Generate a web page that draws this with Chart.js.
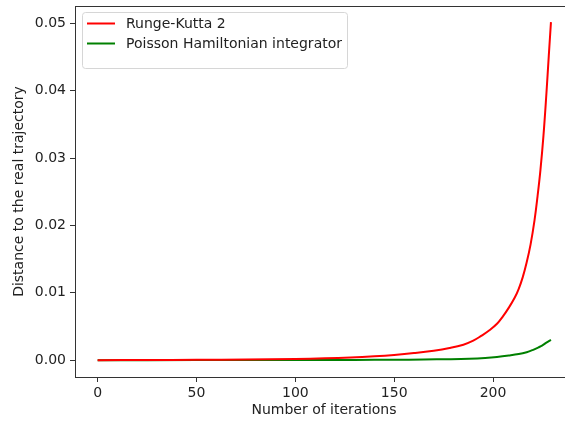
<!DOCTYPE html>
<html>
<head>
<meta charset="utf-8">
<script src="https://cdn.jsdelivr.net/npm/chart.js@4"></script>
<style>
  html, body { margin: 0; padding: 0; background: #fff; overflow: hidden; }
  #wrap { width: 575px; height: 421px; }
</style>
</head>
<body>
<div id="wrap"><canvas id="grafico" width="575" height="421"></canvas></div>
<script>
// --- DATOS ---
const etiquetaRK = "Runge-Kutta 2";
const etiquetaPH = "Poisson Hamiltonian integrator";

const iterRK = [0, 25, 50, 75, 100, 115, 128, 140, 150, 160, 170, 178, 185, 190, 194, 198, 202, 205, 208, 211, 213, 215, 217, 219, 221, 222.5, 224, 225.5, 227, 228.2, 229.3];
const distRK = [0, 0.00002, 0.00005, 0.0001, 0.00018, 0.00027, 0.0004, 0.00058, 0.00078, 0.00105, 0.0014, 0.0018, 0.0023, 0.0029, 0.0036, 0.0044, 0.0054, 0.0065, 0.0078, 0.0093, 0.0106, 0.0123, 0.0145, 0.0172, 0.0208, 0.0243, 0.0283, 0.0333, 0.0396, 0.0452, 0.0502];

const iterPH = [0, 50, 100, 130, 150, 165, 178, 188, 196, 202, 208, 213, 217, 220, 223, 225, 227, 229.3];
const distPH = [0, 0.00001, 0.00002, 0.00004, 0.00006, 0.0001, 0.00015, 0.00022, 0.00033, 0.00047, 0.00068, 0.0009, 0.00118, 0.0015, 0.0019, 0.0022, 0.0026, 0.0030];

const ticksX = [0, 50, 100, 150, 200];
const ticksY = [0, 0.01, 0.02, 0.03, 0.04, 0.05];

const fuente = "'DejaVu Sans', sans-serif";

// --- LEYENDA ESTILO MATPLOTLIB Y MARCO ---
const marcoYLeyenda = {
    id: 'marcoYLeyenda',
    afterDraw(chart) {
        const ctx = chart.ctx;
        const a = chart.chartArea;
        ctx.save();
        ctx.strokeStyle = '#333';
        ctx.lineWidth = 1;
        ctx.strokeRect(a.left + 0.5, a.top + 0.5, a.right - a.left, a.bottom - a.top);

        // caja de la leyenda
        const bx = 82.5, by = 12.5, bw = 265, bh = 56, r = 3;
        ctx.beginPath();
        ctx.moveTo(bx + r, by);
        ctx.arcTo(bx + bw, by, bx + bw, by + bh, r);
        ctx.arcTo(bx + bw, by + bh, bx, by + bh, r);
        ctx.arcTo(bx, by + bh, bx, by, r);
        ctx.arcTo(bx, by, bx + bw, by, r);
        ctx.closePath();
        ctx.fillStyle = 'rgba(255,255,255,0.8)';
        ctx.fill();
        ctx.strokeStyle = '#d6d6d6';
        ctx.stroke();

        ctx.font = '14px ' + fuente;
        ctx.textBaseline = 'middle';
        ctx.textAlign = 'left';
        chart.data.datasets.forEach((ds, i) => {
            const y = 23.5 + i * 20;
            ctx.strokeStyle = ds.borderColor;
            ctx.lineWidth = 2;
            ctx.beginPath();
            ctx.moveTo(87, y);
            ctx.lineTo(115, y);
            ctx.stroke();
            ctx.fillStyle = '#222';
            ctx.fillText(ds.label, 126, y + 0.5);
        });
        ctx.restore();
    }
};

const ctx = document.getElementById('grafico').getContext('2d');
const miGrafico = new Chart(ctx, {
    type: 'line',
    data: {
        datasets: [
            {
                label: etiquetaRK,
                data: iterRK.map((x, i) => ({ x: x, y: distRK[i] })),
                borderColor: '#ff0000',
                borderWidth: 2,
                pointRadius: 0,
                tension: 0.4,
                fill: false
            },
            {
                label: etiquetaPH,
                data: iterPH.map((x, i) => ({ x: x, y: distPH[i] })),
                borderColor: '#008000',
                borderWidth: 2,
                pointRadius: 0,
                tension: 0.4,
                fill: false
            }
        ]
    },
    options: {
        responsive: false,
        animation: false,
        devicePixelRatio: 1,
        layout: { padding: { top: 6, right: 2, left: 0, bottom: 0 } },
        plugins: {
            legend: { display: false },
            tooltip: { enabled: false }
        },
        scales: {
            x: {
                type: 'linear',
                min: -11.45,
                max: 240.45,
                afterBuildTicks: s => { s.ticks = ticksX.map(v => ({ value: v })); },
                afterFit: s => { s.height = 44; s.paddingLeft = 0; s.paddingRight = 0; },
                grid: { drawOnChartArea: false, tickLength: 5, color: '#333', tickWidth: 1 },
                border: { display: false },
                ticks: { color: '#222', font: { family: fuente, size: 14 }, padding: 3, maxRotation: 0 },
                title: {
                    display: true,
                    text: 'Number of iterations',
                    color: '#222',
                    font: { family: fuente, size: 14 },
                    padding: { top: 0, bottom: 2 }
                }
            },
            y: {
                type: 'linear',
                min: -0.0025,
                max: 0.0526,
                afterBuildTicks: s => { s.ticks = ticksY.map(v => ({ value: v })); },
                afterFit: s => { s.width = 75; s.paddingTop = 0; s.paddingBottom = 0; },
                grid: { drawOnChartArea: false, tickLength: 5, color: '#333', tickWidth: 1 },
                border: { display: false },
                ticks: {
                    color: '#222',
                    font: { family: fuente, size: 14 },
                    padding: 4,
                    callback: v => v.toFixed(2)
                },
                title: {
                    display: true,
                    text: 'Distance to the real trajectory',
                    color: '#222',
                    font: { family: fuente, size: 14 },
                    padding: { top: 11, bottom: 0 }
                }
            }
        }
    },
    plugins: [marcoYLeyenda]
});
</script>
</body>
</html>
